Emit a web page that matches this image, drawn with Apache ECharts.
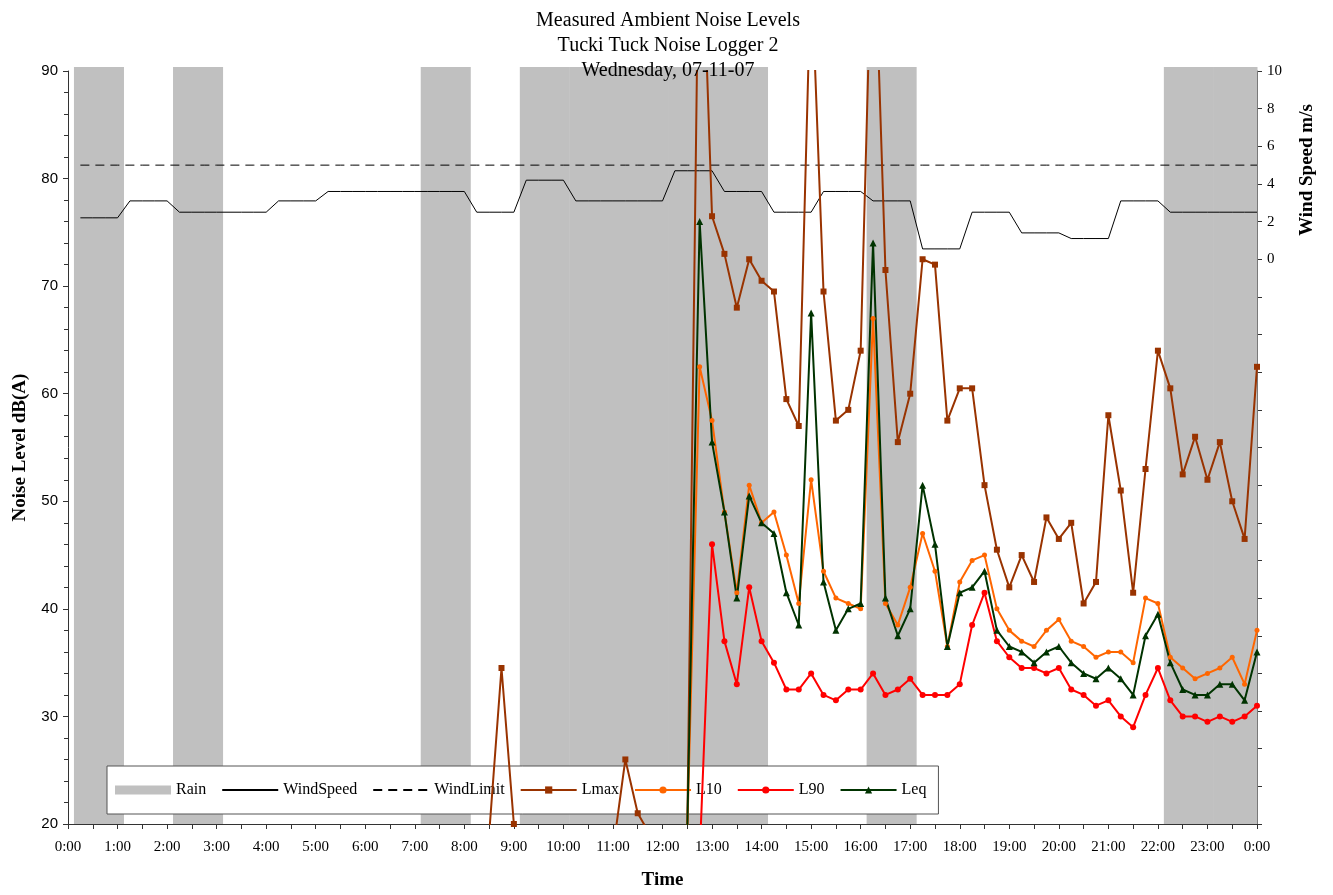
<!DOCTYPE html>
<html>
<head>
<meta charset="utf-8">
<title>Measured Ambient Noise Levels</title>
<script src="https://cdn.jsdelivr.net/npm/echarts@6.0.0/dist/echarts.min.js"></script>
<style>
    html, body { margin: 0; padding: 0; background: #fff; }
    #chart { width: 1333px; height: 895px; }
</style>
</head>
<body>
<div id="chart"></div>
<script>
// hours (start of hour) with rain
var rainHours = [0, 2, 7, 9, 10, 11, 12, 13, 16, 22, 23];

// hourly wind speed m/s, 0:00 .. 23:00
var windSpeed = [2.2, 3.1, 2.5, 2.5, 3.1, 3.6, 3.6, 3.6, 2.5, 4.2, 3.1, 3.1,
                 4.7, 3.6, 2.5, 3.6, 3.1, 0.55, 2.5, 1.4, 1.1, 3.1, 2.5, 2.5];
var windLimit = 5;

// 15 minute noise levels dB(A), 0:15 .. 24:00
var lmax = [17.5, 16.5, 16, 16.5, 17, 16, 15.5, 16, 16.5, 17,
            16, 15.5, 15, 15.5, 16, 16.5, 17, 16.5, 16, 15.5,
            16, 16.5, 17, 17.5, 17, 16.5, 16, 16.5, 17, 17.5,
            18, 18.5, 18, 19, 34.5, 20, 18.5, 18, 17.5, 18,
            18.5, 18, 17.5, 17.5, 26, 21, 19, 18.5, 19, 19.5,
            110, 76.5, 73, 68, 72.5, 70.5, 69.5, 59.5, 57, 100,
            69.5, 57.5, 58.5, 64, 107, 71.5, 55.5, 60, 72.5, 72,
            57.5, 60.5, 60.5, 51.5, 45.5, 42, 45, 42.5, 48.5, 46.5,
            48, 40.5, 42.5, 58, 51, 41.5, 53, 64, 60.5, 52.5,
            56, 52, 55.5, 50, 46.5, 62.5];
var l10 = [15, 14.5, 14, 14.5, 15, 14, 13.5, 14, 14.5, 15,
           14, 13.5, 13, 13.5, 14, 14.5, 15, 14.5, 14, 13.5,
           14, 14.5, 15, 15.5, 15, 14.5, 14, 14.5, 15, 15.5,
           16, 16.5, 16, 17, 18, 17, 16.5, 16, 15.5, 16,
           16.5, 16, 15.5, 16, 17, 16.5, 17, 17.5, 18, 19.3,
           62.5, 57.5, 49, 41.5, 51.5, 48, 49, 45, 40.5, 52,
           43.5, 41, 40.5, 40, 67, 40.5, 38.5, 42, 47, 43.5,
           36.5, 42.5, 44.5, 45, 40, 38, 37, 36.5, 38, 39,
           37, 36.5, 35.5, 36, 36, 35, 41, 40.5, 35.5, 34.5,
           33.5, 34, 34.5, 35.5, 33, 38];
var l90 = [12, 11.5, 11, 11.5, 12, 11, 10.5, 11, 11.5, 12,
           11, 10.5, 10, 10.5, 11, 11.5, 12, 11.5, 11, 10.5,
           11, 11.5, 12, 12.5, 12, 11.5, 11, 11.5, 12, 12.5,
           13, 13.5, 13, 13.5, 14, 13.5, 13, 12.5, 12, 12.5,
           13, 12.5, 12, 12.5, 13, 13.5, 14, 14.5, 15, 16,
           17, 46, 37, 33, 42, 37, 35, 32.5, 32.5, 34,
           32, 31.5, 32.5, 32.5, 34, 32, 32.5, 33.5, 32, 32,
           32, 33, 38.5, 41.5, 37, 35.5, 34.5, 34.5, 34, 34.5,
           32.5, 32, 31, 31.5, 30, 29, 32, 34.5, 31.5, 30,
           30, 29.5, 30, 29.5, 30, 31];
var leq = [14, 13.5, 13, 13.5, 14, 13, 12.5, 13, 13.5, 14,
           13, 12.5, 12, 12.5, 13, 13.5, 14, 13.5, 13, 12.5,
           13, 13.5, 14, 14.5, 14, 13.5, 13, 13.5, 14, 14.5,
           15, 15.5, 15, 16, 17, 16, 15.5, 15, 14.5, 15,
           15.5, 15, 14.5, 15, 16, 15.5, 16, 16.5, 17, 19.4,
           76, 55.5, 49, 41, 50.5, 48, 47, 41.5, 38.5, 67.5,
           42.5, 38, 40, 40.5, 74, 41, 37.5, 40, 51.5, 46,
           36.5, 41.5, 42, 43.5, 38, 36.5, 36, 35, 36, 36.5,
           35, 34, 33.5, 34.5, 33.5, 32, 37.5, 39.5, 35, 32.5,
           32, 32, 33, 33, 31.5, 36];

var titleLines = ['Measured Ambient Noise Levels', 'Tucki Tuck Noise Logger 2', 'Wednesday, 07-11-07'];

var serif = '"Liberation Serif", "Times New Roman", serif';

// each value belongs to the 15 minutes ending at its time stamp
function toPoints(arr) {
    return arr.map(function (v, i) { return [(i + 1) / 4, v]; });
}
function windPoints() {
    var pts = [];
    windSpeed.forEach(function (v, h) {
        for (var q = 1; q <= 4; q++) pts.push([h + q / 4, v]);
    });
    return pts;
}
function limitPoints() {
    var pts = [];
    windSpeed.forEach(function (v, h) {
        for (var q = 1; q <= 4; q++) pts.push([h + q / 4, windLimit]);
    });
    return pts;
}

function renderRain(params, api) {
    var h = api.value(0);
    var p0 = api.coord([h + 0.12, 90]);
    var p1 = api.coord([Math.min(h + 1.12, 24), 20]);
    return {
        type: 'rect',
        shape: { x: p0[0], y: p0[1] - 4, width: p1[0] - p0[0] + 0.5, height: p1[1] - p0[1] + 4 },
        style: { fill: '#c0c0c0' }
    };
}

function noiseSeries(name, arr, color, symbol, size) {
    return {
        name: name,
        type: 'line',
        data: toPoints(arr),
        yAxisIndex: 0,
        symbol: symbol,
        symbolSize: size,
        showAllSymbol: true,
        clip: true,
        lineStyle: { color: color, width: 2 },
        itemStyle: { color: color },
        emphasis: { disabled: true },
        z: 4
    };
}

var noMarker = { color: 'rgba(0,0,0,0)', borderWidth: 0 };

var chart = echarts.init(document.getElementById('chart'));
var option = {
    animation: false,
    backgroundColor: '#fff',
    title: {
        text: titleLines.join('\n'),
        left: 663,
        top: 3,
        textAlign: 'center',
        textStyle: { fontFamily: serif, fontSize: 20, fontWeight: 'normal', color: '#000', lineHeight: 25 }
    },
    legend: {
        left: 107,
        top: 766,
        orient: 'horizontal',
        itemWidth: 56,
        itemHeight: 9,
        itemGap: 15,
        padding: [16, 12, 16, 8],
        backgroundColor: '#fff',
        borderColor: '#555',
        borderWidth: 1,
        selectedMode: false,
        textStyle: { fontFamily: serif, fontSize: 16, lineHeight: 15, color: '#000' },
        data: [
            { name: 'Rain', icon: 'rect' },
            { name: 'WindSpeed', itemStyle: noMarker },
            { name: 'WindLimit', itemStyle: noMarker },
            'Lmax', 'L10', 'L90', 'Leq'
        ]
    },
    grid: { left: 68, top: 71, width: 1189, height: 755 },
    xAxis: {
        type: 'value',
        min: 0,
        max: 24,
        interval: 1,
        name: 'Time',
        nameLocation: 'middle',
        nameGap: 47,
        nameTextStyle: { fontFamily: serif, fontSize: 19, fontWeight: 'bold', color: '#000' },
        axisLine: { onZero: false, lineStyle: { color: '#333', width: 1 } },
        axisTick: { length: 5, lineStyle: { color: '#333' } },
        minorTick: { show: true, splitNumber: 2, length: 5, lineStyle: { color: '#333' } },
        splitLine: { show: false },
        axisLabel: {
            margin: 16,
            fontFamily: serif,
            fontSize: 15,
            color: '#000',
            formatter: function (v) { return (v % 24) + ':00'; }
        }
    },
    yAxis: [{
        type: 'value',
        min: 20,
        max: 90,
        interval: 10,
        name: 'Noise Level dB(A)',
        nameLocation: 'middle',
        nameGap: 38,
        nameTextStyle: { fontFamily: serif, fontSize: 19, fontWeight: 'bold', color: '#000' },
        axisLine: { show: true, onZero: false, lineStyle: { color: '#333', width: 1 } },
        axisTick: { show: true, length: 5, lineStyle: { color: '#333' } },
        minorTick: { show: true, splitNumber: 5, length: 4, lineStyle: { color: '#333' } },
        splitLine: { show: false },
        axisLabel: { margin: 10, fontFamily: '"Liberation Sans", Arial, sans-serif', fontSize: 15, color: '#000' }
    }, {
        type: 'value',
        position: 'right',
        min: -30,
        max: 10,
        interval: 2,
        axisLine: { show: true, onZero: false, lineStyle: { color: '#333', width: 1 } },
        axisTick: { show: true, length: 5, lineStyle: { color: '#333' } },
        splitLine: { show: false },
        axisLabel: {
            margin: 10,
            fontFamily: serif,
            fontSize: 15,
            color: '#000',
            formatter: function (v) { return v >= 0 ? v : ''; }
        }
    }],
    graphic: [{
        type: 'text',
        x: 1307,
        y: 170,
        rotation: Math.PI / 2,
        style: {
            text: 'Wind Speed m/s',
            fontFamily: serif,
            fontSize: 19,
            fontWeight: 'bold',
            fill: '#000',
            align: 'center',
            verticalAlign: 'middle'
        }
    }],
    series: [{
        name: 'Rain',
        type: 'custom',
        renderItem: renderRain,
        data: rainHours.map(function (h) { return [h, 90]; }),
        itemStyle: { color: '#c0c0c0' },
        clip: false,
        silent: true,
        z: 1
    }, {
        name: 'WindSpeed',
        type: 'line',
        yAxisIndex: 1,
        data: windPoints(),
        symbol: 'none',
        lineStyle: { color: '#000', width: 1 },
        itemStyle: { color: '#000' },
        emphasis: { disabled: true },
        z: 3
    }, {
        name: 'WindLimit',
        type: 'line',
        yAxisIndex: 1,
        data: limitPoints(),
        symbol: 'none',
        lineStyle: { color: '#000', width: 1, type: [9, 6] },
        itemStyle: { color: '#000' },
        emphasis: { disabled: true },
        z: 3
    },
        noiseSeries('Lmax', lmax, '#993300', 'rect', 6),
        noiseSeries('L10', l10, '#ff6600', 'circle', 5),
        noiseSeries('L90', l90, '#ff0000', 'circle', 6),
        noiseSeries('Leq', leq, '#003300', 'triangle', 7)
    ]
};
chart.setOption(option);
window.addEventListener('resize', function () {
    chart.resize();
});
</script>
</body>
</html>
